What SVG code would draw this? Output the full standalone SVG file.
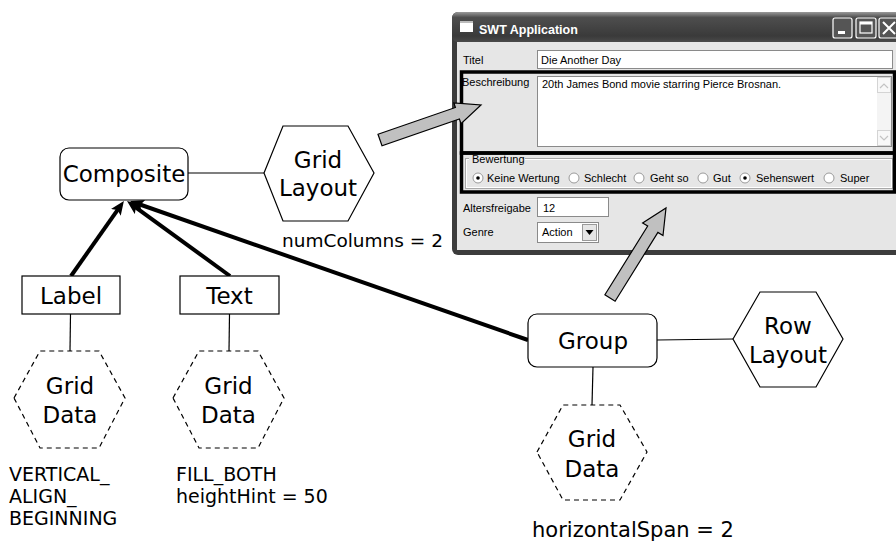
<svg xmlns="http://www.w3.org/2000/svg" width="896" height="542" viewBox="0 0 896 542">
<defs>
<linearGradient id="tb" x1="0" y1="0" x2="0" y2="1">
<stop offset="0" stop-color="#9a9a9a"/>
<stop offset="0.18" stop-color="#4e4e4e"/>
<stop offset="0.8" stop-color="#3a3a3a"/>
<stop offset="1" stop-color="#4a4a4a"/>
</linearGradient>
<marker id="ah" viewBox="0 0 14 12" markerWidth="14" markerHeight="12" refX="5" refY="6" orient="auto" markerUnits="userSpaceOnUse">
<path d="M0,0 L14,6 L0,12 L3,6 z" fill="#000"/>
</marker>
</defs>
<style>
.node{font-family:"DejaVu Sans",Verdana,sans-serif;font-size:23px;fill:#000;text-anchor:middle}
.ann{font-family:"DejaVu Sans",Verdana,sans-serif;fill:#000}
.box{fill:#fff;stroke:#000;stroke-width:1.2}
.hex{fill:#fff;stroke:#000;stroke-width:1.2}
.dhex{fill:#fff;stroke:#000;stroke-width:1.2;stroke-dasharray:5,4}
.thin{stroke:#000;stroke-width:1.2;fill:none}
.thick{stroke:#000;stroke-width:4;fill:none;marker-end:url(#ah)}
.garrow{fill:#c0c0c0;stroke:#000;stroke-width:1.2;stroke-linejoin:miter}
.ui{font-family:"Liberation Sans",Arial,sans-serif;font-size:11px;fill:#000}
.field{fill:#fff;stroke:#8a8a8a;stroke-width:1}
.radio{fill:#fff;stroke:#9a9a9a;stroke-width:1}
.tbtn{fill:#555;stroke:#fff;stroke-width:1.2}
</style>

<!-- SWT window screenshot -->
<g id="swt-window">
<rect x="452" y="12" width="450" height="243" rx="6" fill="#3c3c3c"/>
<rect x="452" y="12" width="450" height="30" rx="6" fill="url(#tb)"/>
<rect x="457" y="42" width="440" height="208" fill="#e6e6e6"/>
<rect x="460" y="21" width="13" height="11" fill="#fff"/>
<rect x="460" y="21" width="13" height="2" fill="#bbb"/>
<text x="479" y="34" font-family="'Liberation Sans',Arial,sans-serif" font-size="12.5" font-weight="bold" fill="#fff">SWT Application</text>
<rect x="833" y="18" width="19" height="20" rx="2" class="tbtn"/>
<rect x="838" y="31" width="7" height="3" fill="#fff"/>
<rect x="856" y="18" width="20" height="20" rx="2" class="tbtn"/>
<rect x="860" y="22" width="12" height="11" fill="none" stroke="#fff" stroke-width="1.2"/>
<rect x="860" y="22" width="12" height="2.5" fill="#fff"/>
<rect x="879" y="18" width="20" height="20" rx="2" class="tbtn"/>
<path d="M883,22 L895,34 M895,22 L883,34" stroke="#fff" stroke-width="2"/>

<text class="ui" x="463" y="64">Titel</text>
<rect class="field" x="537.5" y="50.5" width="355" height="18"/>
<text class="ui" x="541" y="64">Die Another Day</text>

<text class="ui" x="462" y="86">Beschreibung</text>
<rect class="field" x="537.5" y="76.5" width="354" height="70"/>
<text class="ui" x="542" y="88">20th James Bond movie starring Pierce Brosnan.</text>
<rect x="877" y="77" width="14" height="69" fill="#f4f4f4"/>
<rect x="877.5" y="77.5" width="13" height="15" fill="#f8f8f8" stroke="#d4d4d4"/>
<path d="M880,88 L884,84 L888,88" fill="none" stroke="#c4c4c4" stroke-width="1.2"/>
<rect x="877.5" y="130.5" width="13" height="15" fill="#f8f8f8" stroke="#d4d4d4"/>
<path d="M880,136 L884,140 L888,136" fill="none" stroke="#c4c4c4" stroke-width="1.2"/>

<rect x="465.5" y="158.5" width="427" height="30" fill="none" stroke="#a8a8a8"/>
<rect x="466.5" y="159.5" width="425" height="28" fill="none" stroke="#fff"/>
<rect x="469" y="154" width="56" height="10" fill="#e6e6e6"/>
<text class="ui" x="472" y="163">Bewertung</text>
<circle class="radio" cx="478" cy="178" r="5"/>
<circle cx="478" cy="178" r="1.8" fill="#000"/>
<text class="ui" x="487" y="182">Keine Wertung</text>
<circle class="radio" cx="574" cy="178" r="5"/>
<text class="ui" x="584" y="182">Schlecht</text>
<circle class="radio" cx="639" cy="178" r="5"/>
<text class="ui" x="650" y="182">Geht so</text>
<circle class="radio" cx="703" cy="178" r="5"/>
<text class="ui" x="713" y="182">Gut</text>
<circle class="radio" cx="745" cy="178" r="5"/>
<circle cx="745" cy="178" r="1.8" fill="#000"/>
<text class="ui" x="756" y="182">Sehenswert</text>
<circle class="radio" cx="829" cy="178" r="5"/>
<text class="ui" x="840" y="182">Super</text>

<rect x="461.5" y="72" width="433" height="81" fill="none" stroke="#000" stroke-width="3.5"/>
<rect x="461.5" y="153" width="433" height="39" fill="none" stroke="#000" stroke-width="3.5"/>

<text class="ui" x="463" y="212">Altersfreigabe</text>
<rect class="field" x="537.5" y="197.5" width="71" height="19"/>
<text class="ui" x="543" y="212">12</text>

<text class="ui" x="463" y="236">Genre</text>
<rect class="field" x="537.5" y="222.5" width="61" height="20"/>
<text class="ui" x="542" y="236">Action</text>
<rect x="582.5" y="224.5" width="14" height="16" fill="#e6e6e6" stroke="#9a9a9a"/>
<path d="M585.5,230 L593.5,230 L589.5,235 z" fill="#000"/>
</g>

<!-- connectors -->
<g id="connectors">
<line class="thin" x1="188" y1="173" x2="264" y2="173"/>
<line class="thin" x1="70.5" y1="314" x2="70" y2="351"/>
<line class="thin" x1="229.5" y1="314" x2="229" y2="351"/>
<line class="thin" x1="657" y1="340" x2="733" y2="339"/>
<line class="thin" x1="593" y1="367" x2="592" y2="405"/>
<line class="thick" x1="71" y1="276" x2="118.7" y2="208.3"/>
<line class="thick" x1="230" y1="276" x2="134.3" y2="206.3"/>
<line class="thick" x1="528" y1="340" x2="138.5" y2="204"/>
<polygon class="garrow" points="378,134.3 455.4,107.5 453.8,102.8 481,105 461,123.6 459.4,118.9 382,145.7"/>
<polygon class="garrow" points="604.9,294.8 647.7,226 642.6,222.9 666,208 663,235.5 657.9,232.4 615.1,301.2"/>
</g>

<g id="composite">
<rect class="box" x="60" y="148" width="128" height="52" rx="9"/>
<text class="node" x="124" y="182">Composite</text>
</g>

<g id="gridlayout">
<polygon class="hex" points="264,173 283,126 348,126 374,173 348,221 283,221"/>
<text class="node" x="318" y="168">Grid</text>
<text class="node" x="318" y="196">Layout</text>
<text class="ann" x="282" y="247" font-size="18.5">numColumns = 2</text>
</g>

<g id="label">
<rect class="box" x="22" y="276" width="98" height="38"/>
<text class="node" x="71" y="304">Label</text>
</g>

<g id="text">
<rect class="box" x="180" y="276" width="99" height="38"/>
<text class="node" x="229.5" y="304">Text</text>
</g>

<g id="griddata-label">
<polygon class="dhex" points="14,398 40,351 99,351 125,398 99,448 40,448"/>
<text class="node" x="70" y="394">Grid</text>
<text class="node" x="70" y="423">Data</text>
<text class="ann" font-size="19" x="9" y="481">VERTICAL_</text>
<text class="ann" font-size="19" x="9" y="503">ALIGN_</text>
<text class="ann" font-size="19" x="9" y="525">BEGINNING</text>
</g>

<g id="griddata-text">
<polygon class="dhex" points="173,398 199,351 258,351 284,398 258,448 199,448"/>
<text class="node" x="228.5" y="394">Grid</text>
<text class="node" x="228.5" y="423">Data</text>
<text class="ann" font-size="19" x="176" y="481">FILL_BOTH</text>
<text class="ann" font-size="19" x="176" y="503">heightHint = 50</text>
</g>

<g id="group">
<rect class="box" x="528" y="314" width="129" height="53" rx="9"/>
<text class="node" x="593" y="349">Group</text>
</g>

<g id="rowlayout">
<polygon class="hex" points="733,339 760,292 816,292 843,339 816,387 760,387"/>
<text class="node" x="788" y="334">Row</text>
<text class="node" x="788" y="363">Layout</text>
</g>

<g id="griddata-group">
<polygon class="dhex" points="537,452 563,405 620,405 647,452 620,500 563,500"/>
<text class="node" x="592" y="447">Grid</text>
<text class="node" x="592" y="477">Data</text>
<text class="ann" font-size="21" x="532" y="537">horizontalSpan = 2</text>
</g>
</svg>
